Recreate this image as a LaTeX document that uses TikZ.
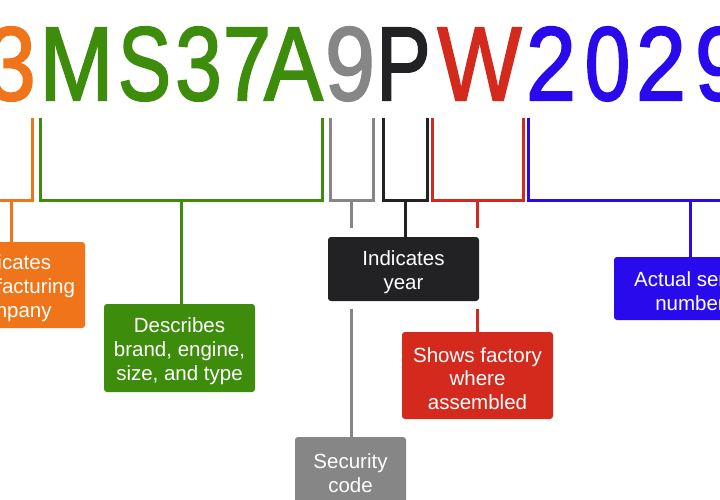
\documentclass[tikz,border=0pt]{standalone}
\usepackage{fontspec}
\usepackage{graphicx}
\setmainfont{Liberation Sans}
\newfontfamily\vinfont[FakeBold=2]{Liberation Sans}
\definecolor{vorange}{RGB}{240,116,26}
\definecolor{vgreen}{RGB}{62,140,12}
\definecolor{vgray}{RGB}{134,134,134}
\definecolor{vblack}{RGB}{34,34,37}
\definecolor{vred}{RGB}{212,42,30}
\definecolor{vblue}{RGB}{40,10,236}
\newcommand\vinglyph[2]{\scalebox{#1}[1]{#2}}
\tikzset{
  glyph/.style={anchor=base, inner sep=0pt, font=\vinfont\fontsize{104.7}{110}\selectfont},
  infobox/.style={rounded corners=3pt, inner sep=0pt},
  infotext/.style={text=white, align=center, inner sep=0pt, yshift=-3pt,
     font=\fontsize{20.5}{23.8}\selectfont},
  wire/.style={line width=3pt},
}
\begin{document}
\begin{tikzpicture}[x=1pt,y=-1pt]
\useasboundingbox (0,0) rectangle (720,500);
\clip (0,0) rectangle (720,500);
\fill[white] (0,0) rectangle (720,500);
% the characters
\node[glyph,text=vorange] (c1) at (11,100) {\vinglyph{0.85}{3}};
\node[glyph,text=vgreen] (c2) at (76.5,100) {\vinglyph{0.85}{M}};
\node[glyph,text=vgreen] (c3) at (144.5,100) {\vinglyph{0.76}{S}};
\node[glyph,text=vgreen] (c4) at (198.5,100) {\vinglyph{0.8}{3}};
\node[glyph,text=vgreen] (c5) at (247,100) {\vinglyph{0.83}{7}};
\node[glyph,text=vgreen] (c6) at (293.5,100) {\vinglyph{0.84}{A}};
\node[glyph,text=vgray] (c7) at (350,100) {\vinglyph{0.86}{9}};
\node[glyph,text=vblack] (c8) at (403.5,100) {\vinglyph{0.78}{P}};
\node[glyph,text=vred] (c9) at (479.5,100) {\vinglyph{0.85}{W}};
\node[glyph,text=vblue] (c10) at (551,100) {\vinglyph{0.86}{2}};
\node[glyph,text=vblue] (c11) at (607.5,100) {\vinglyph{0.78}{0}};
\node[glyph,text=vblue] (c12) at (661,100) {\vinglyph{0.86}{2}};
\node[glyph,text=vblue] (c13) at (720,100) {\vinglyph{0.86}{9}};
% boxes
\node[infobox,fill=vorange,minimum width=150pt,minimum height=86pt] (bor) at (10,285) {};
\node[infotext] (tor) at (bor.center) {Indicates\\manufacturing\\company};
\node[infobox,fill=vgreen,minimum width=151pt,minimum height=88pt] (bgr) at (179.5,348) {};
\node[infotext] (tgr) at (bgr.center) {Describes\\brand, engine,\\size, and type};
\node[infobox,fill=vblack,minimum width=151pt,minimum height=64pt] (bbk) at (403.5,269) {};
\node[infotext] (tbk) at (bbk.center) {Indicates\\year};
\node[infobox,fill=vred,minimum width=151pt,minimum height=87pt] (brd) at (477.5,375.5) {};
\node[infotext] (trd) at (brd.center) {Shows factory\\where\\assembled};
\node[infobox,fill=vgray,minimum width=111pt,minimum height=66pt] (bgy) at (350.5,470) {};
\node[infotext] (tgy) at (bgy.center) {Security\\code};
\node[infobox,fill=vblue,minimum width=152pt,minimum height=63pt] (bbl) at (690,288.5) {};
\node[infotext] (tbl) at (bbl.center) {Actual serial\\number};
% bracket coordinates
\coordinate (gyA) at (351,228);
\coordinate (gyB) at (351,309);
\coordinate (rdA) at (477,228);
\coordinate (rdB) at (477,309);
% brackets
\draw[wire,vorange] (-10,118) -- (-10,200) -- (32,200) -- (32,118);
\draw[wire,vorange] (11,200) -- (bor.north -| 11,0);
\draw[wire,vgreen] (40,118) -- (40,200) -- (322,200) -- (322,118);
\draw[wire,vgreen] (181,200) -- (bgr.north -| 181,0);
\draw[wire,vgray] (330,118) -- (330,200) -- (373,200) -- (373,118);
\draw[wire,vgray] (351,200) -- (gyA);
\draw[wire,vgray] (gyB) -- (bgy.north -| gyB);
\draw[wire,vblack] (383,118) -- (383,200) -- (427,200) -- (427,118);
\draw[wire,vblack] (405,200) -- (bbk.north -| 405,0);
\draw[wire,vred] (432,118) -- (432,200) -- (523,200) -- (523,118);
\draw[wire,vred] (477,200) -- (rdA);
\draw[wire,vred] (rdB) -- (brd.north -| rdB);
\draw[wire,vblue] (528,118) -- (528,200) -- (852,200) -- (852,118);
\draw[wire,vblue] (690,200) -- (bbl.north);
\end{tikzpicture}
\end{document}
